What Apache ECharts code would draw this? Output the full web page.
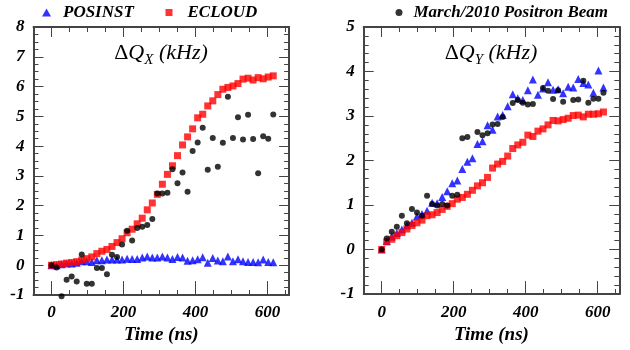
<!DOCTYPE html>
<html>
<head>
<meta charset="utf-8">
<script src="https://cdn.jsdelivr.net/npm/echarts@6/dist/echarts.min.js"></script>
<style>
  html, body { margin: 0; padding: 0; background: #fff; }
  #chart { width: 630px; height: 350px; }
</style>
</head>
<body>
<div id="chart"></div>
<script>
// witness bunch time (ns)
var times = [0, 14, 28, 42, 56, 70, 84, 98, 112, 126, 140, 154, 168, 182, 196, 210, 224, 238, 252, 266, 280, 294,
  308, 322, 336, 350, 364, 378, 392, 406, 420, 434, 448, 462, 476, 490, 504, 518, 532, 546, 560, 574, 588, 602, 616];
var xTickLabels = [0, 200, 400, 600];

// dQx (kHz)
var qxPosinst = [0, 0.00, 0.03, 0.06, 0.06, 0.08, 0.13, 0.13, 0.11, 0.17, 0.17, 0.19, 0.19, 0.19, 0.19, 0.22, 0.21, 0.21,
  0.26, 0.29, 0.26, 0.26, 0.29, 0.26, 0.21, 0.28, 0.26, 0.15, 0.17, 0.20, 0.27, 0.08, 0.24, 0.16, 0.13, 0.29, 0.13, 0.20,
  0.13, 0.11, 0.11, 0.10, 0.19, 0.11, 0.10];
var qxEcloud = [0.00, 0.02, 0.04, 0.07, 0.09, 0.12, 0.17, 0.22, 0.28, 0.39, 0.47, 0.53, 0.63, 0.76, 0.89, 1.09, 1.21, 1.39,
  1.58, 1.86, 2.09, 2.38, 2.72, 3.05, 3.34, 3.68, 4.04, 4.31, 4.58, 4.95, 5.07, 5.35, 5.52, 5.73, 5.91, 5.97, 6.02, 6.10,
  6.25, 6.28, 6.22, 6.30, 6.26, 6.32, 6.36];
var qxBeam = [0.00, -0.08, -1.04, -0.49, -0.38, -0.55, 0.36, -0.62, -0.62, -0.09, -0.09, -0.30, 0.35, 0.28, 0.70, 1.16, 0.83,
  1.25, 1.29, 1.35, 1.55, 2.41, 2.41, 2.43, 3.22, 2.75, 3.11, 2.47, 3.84, 4.12, 4.62, 3.21, 4.27, 3.31, 4.11, 5.66, 4.27,
  4.97, 4.22, 5.05, 4.24, 3.09, 4.33, 4.25, 5.06];

// dQy (kHz)
var qyPosinst = [0, 0.19, 0.29, 0.37, 0.45, 0.54, 0.60, 0.75, 0.80, 0.87, 1.05, 1.04, 1.18, 1.31, 1.49, 1.55, 1.81, 1.97,
  2.05, 2.37, 2.43, 2.79, 2.69, 2.99, 3.02, 3.22, 3.49, 3.40, 3.36, 3.58, 3.82, 3.48, 3.62, 3.76, 3.59, 3.60, 3.51, 3.66,
  3.64, 3.83, 3.74, 3.71, 3.52, 4.02, 3.64];
var qyEcloud = [0.00, 0.17, 0.23, 0.31, 0.38, 0.46, 0.54, 0.60, 0.66, 0.76, 0.78, 0.83, 0.90, 0.97, 1.03, 1.13, 1.17, 1.24,
  1.33, 1.43, 1.50, 1.62, 1.83, 1.92, 1.98, 2.10, 2.27, 2.35, 2.41, 2.57, 2.54, 2.66, 2.71, 2.80, 2.90, 2.89, 2.92, 2.95,
  3.01, 3.02, 2.98, 3.04, 3.04, 3.05, 3.09];
var qyBeam = [0, 0.25, 0.40, 0.51, 0.76, 0.59, 0.91, 0.83, 0.76, 1.21, 1.02, 0.99, 1.02, 0.99, 1.21, 1.23, 2.50, 2.53,
  null, 2.64, 2.57, 2.61, 2.81, 2.82, 2.98, null, 3.29, 3.36, 3.30, 3.26, 3.27, null, 3.63, 3.57, 3.38, 3.58, 3.32, null,
  3.36, 3.37, 3.79, 3.30, 3.39, 3.39, 3.52];

var chart = echarts.init(document.getElementById('chart'), null, { renderer: 'canvas' });

var frame = '#444';
var font = { fontFamily: 'Liberation Serif', fontStyle: 'italic', fontWeight: 'bold', color: '#000' };

function pairs(vals) {
  var out = [];
  for (var i = 0; i < times.length; i++) {
    if (vals[i] !== null) out.push([times[i], vals[i]]);
  }
  return out;
}

// minor ticks (every 50 ns) + frame line
function xMinor(g, pos) {
  return {
    type: 'value', gridIndex: g, position: pos, min: -50, max: 660, interval: 50,
    axisLine: { show: true, onZero: false, lineStyle: { color: frame, width: 2 } },
    axisTick: { show: true, inside: true, length: 5, lineStyle: { color: frame } },
    axisLabel: { show: false },
    splitLine: { show: false }
  };
}
// major ticks + labels
function xMajor(g, pos, withLabels) {
  var ax = {
    type: 'value', gridIndex: g, position: pos, min: -50, max: 660,
    axisLine: { show: false, onZero: false },
    axisTick: { show: true, inside: true, length: 10, customValues: xTickLabels, lineStyle: { color: frame } },
    axisLabel: { show: false },
    splitLine: { show: false }
  };
  if (withLabels) {
    ax.axisLabel = Object.assign({ show: true, customValues: xTickLabels, margin: 13, fontSize: 17 }, font);
    ax.name = 'Time (ns)';
    ax.nameLocation = 'middle';
    ax.nameGap = 26;
    ax.nameTextStyle = Object.assign({ fontSize: 19 }, font);
  }
  return ax;
}
function yAxis(g, pos, max, split, withLabels) {
  return {
    type: 'value', gridIndex: g, position: pos, min: -1, max: max, interval: 1,
    axisLine: { show: true, onZero: false, lineStyle: { color: frame, width: 2 } },
    axisTick: { show: true, inside: true, length: 10, lineStyle: { color: frame } },
    minorTick: { show: true, splitNumber: split, length: 5, lineStyle: { color: frame } },
    axisLabel: withLabels ? Object.assign({ show: true, margin: 9, fontSize: 17 }, font) : { show: false },
    splitLine: { show: false },
    minorSplitLine: { show: false }
  };
}
function yHidden(g, max) {
  return { type: 'value', gridIndex: g, min: -1, max: max, show: false };
}

function scatter(name, data, xi, yi) {
  var s = { name: name, type: 'scatter', xAxisIndex: xi, yAxisIndex: yi, data: data, clip: false };
  if (name === 'POSINST') { s.symbol = 'triangle'; s.symbolSize = 8; s.itemStyle = { color: '#0000ff' }; }
  else if (name === 'ECLOUD') { s.symbol = 'rect'; s.symbolSize = 7; s.itemStyle = { color: '#ff0000' }; }
  else { s.symbol = 'circle'; s.symbolSize = 6; s.itemStyle = { color: '#000' }; }
  return s;
}

function titleText(x, sub) {
  return {
    type: 'text', x: x, y: 53, z: 100,
    style: {
      text: '{d|Δ}{q|Q}{s|' + sub + '}{k| (kHz)}',
      align: 'center', verticalAlign: 'middle',
      rich: {
        d: { fontFamily: 'Liberation Serif', fontSize: 22, fill: '#000' },
        q: { fontFamily: 'Liberation Serif', fontStyle: 'italic', fontSize: 22, fill: '#000' },
        s: { fontFamily: 'Liberation Serif', fontStyle: 'italic', fontSize: 15, fill: '#000', padding: [14, 0, 0, 0] },
        k: { fontFamily: 'Liberation Serif', fontStyle: 'italic', fontSize: 22, fill: '#000' }
      }
    }
  };
}

var legendBase = {
  top: 4, padding: 0, selectedMode: false, orient: 'horizontal'
};

var option = {
  animation: false,
  backgroundColor: '#fff',
  grid: [
    { left: 33.5, top: 27, width: 255.6, height: 268 },
    { left: 33.5, top: 27, width: 255.6, height: 268 },
    { left: 363.7, top: 27, width: 255.6, height: 267 },
    { left: 363.7, top: 27, width: 255.6, height: 267 }
  ],
  xAxis: [
    xMinor(0, 'bottom'), xMinor(0, 'top'),
    xMajor(1, 'bottom', true), xMajor(1, 'top', false),
    xMinor(2, 'bottom'), xMinor(2, 'top'),
    xMajor(3, 'bottom', true), xMajor(3, 'top', false)
  ],
  yAxis: [
    yAxis(0, 'left', 8, 4, true), yAxis(0, 'right', 8, 4, false),
    yHidden(1, 8),
    yAxis(2, 'left', 5, 5, true), yAxis(2, 'right', 5, 5, false),
    yHidden(3, 5)
  ],
  legend: [
    Object.assign({}, legendBase, { data: ['POSINST'], left: 42, itemWidth: 9, itemHeight: 8,
      textStyle: Object.assign({ fontSize: 17, padding: [0, 0, 0, 7] }, font) }),
    Object.assign({}, legendBase, { data: ['ECLOUD'], left: 165.5, itemWidth: 7, itemHeight: 7,
      textStyle: Object.assign({ fontSize: 17, padding: [0, 0, 0, 10] }, font) }),
    Object.assign({}, legendBase, { data: ['March/2010 Positron Beam'], left: 395.5, itemWidth: 7, itemHeight: 7,
      textStyle: Object.assign({ fontSize: 17, padding: [0, 0, 0, 6] }, font) })
  ],
  graphic: [titleText(161, 'X'), titleText(491, 'Y')],
  series: [
    scatter('POSINST', pairs(qxPosinst), 0, 0),
    scatter('ECLOUD', pairs(qxEcloud), 0, 0),
    scatter('March/2010 Positron Beam', pairs(qxBeam), 0, 0),
    scatter('POSINST', pairs(qyPosinst), 4, 3),
    scatter('ECLOUD', pairs(qyEcloud), 4, 3),
    scatter('March/2010 Positron Beam', pairs(qyBeam), 4, 3)
  ]
};

chart.setOption(option);
</script>
</body>
</html>
